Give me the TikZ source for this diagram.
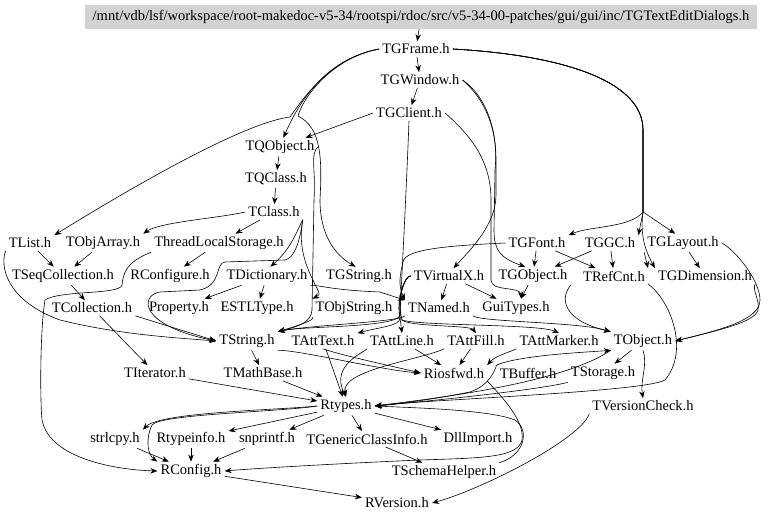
\documentclass[tikz,border=0pt]{standalone}
\usepackage{fontspec}
\setmainfont{Liberation Serif}
\usetikzlibrary{arrows.meta}
\definecolor{rootgray}{RGB}{211,211,211}
\begin{document}
\begin{tikzpicture}[x=1pt,y=-1pt,
  every node/.style={font=\fontsize{14.5}{16}\selectfont,inner xsep=3pt,inner ysep=2.5pt},
  rootbox/.style={fill=rootgray,minimum width=672pt,minimum height=24pt,inner sep=0pt},
  dep/.style={->,>={Stealth[length=7pt,width=5.5pt]},line width=0.6pt}]
\useasboundingbox (0,0) rectangle (768,521);
% header and gui part
\node[rootbox] (root) at (421,17) {/mnt/vdb/lsf/workspace/root-makedoc-v5-34/rootspi/rdoc/src/v5-34-00-patches/gui/gui/inc/TGTextEditDialogs.h};
\node (frame) at (416,49) {TGFrame.h};
\node (window) at (420,80) {TGWindow.h};
\node (client) at (409,113) {TGClient.h};
\node (qobject) at (280,147) {TQObject.h};
\node (qclass) at (276,179) {TQClass.h};
\node (class) at (274,212) {TClass.h};
\node (list) at (30,243) {TList.h};
\node (objarray) at (103,243) {TObjArray.h};
\node (tls) at (219,243) {ThreadLocalStorage.h};
\node (font) at (537,243) {TGFont.h};
\node (gc) at (610,243) {TGGC.h};
\node (layout) at (683,243) {TGLayout.h};
\node (seqcoll) at (63,276) {TSeqCollection.h};
\node (rconfigure) at (170,276) {RConfigure.h};
\node (dictionary) at (267,276) {TDictionary.h};
\node (gstring) at (359,276) {TGString.h};
\node (virtualx) at (449,276) {TVirtualX.h};
\node (gobject) at (533,276) {TGObject.h};
\node (refcnt) at (614,276) {TRefCnt.h};
\node (dimension) at (705,276) {TGDimension.h};
\node (collection) at (92,308) {TCollection.h};
\node (property) at (179,308) {Property.h};
\node (estltype) at (257,308) {ESTLType.h};
\node (objstring) at (354,308) {TObjString.h};
\node (named) at (439,308) {TNamed.h};
\node (guitypes) at (516,308) {GuiTypes.h};
% core part
\node (string) at (247,341) {TString.h};
\node (atttext) at (323,341) {TAttText.h};
\node (attline) at (402,341) {TAttLine.h};
\node (attfill) at (476,341) {TAttFill.h};
\node (attmarker) at (559,341) {TAttMarker.h};
\node (object) at (643,341) {TObject.h};
\node (iterator) at (155,373) {TIterator.h};
\node (mathbase) at (263,373) {TMathBase.h};
\node (riosfwd) at (454,373) {Riosfwd.h};
\node (buffer) at (528,373) {TBuffer.h};
\node (storage) at (603,373) {TStorage.h};
\node (rtypes) at (346,406) {Rtypes.h};
\node (versioncheck) at (643,406) {TVersionCheck.h};
\node (strlcpy) at (115,439) {strlcpy.h};
\node (rtypeinfo) at (191,439) {Rtypeinfo.h};
\node (snprintf) at (267,439) {snprintf.h};
\node (genclassinfo) at (367,439) {TGenericClassInfo.h};
\node (dllimport) at (478,439) {DllImport.h};
\node (rconfig) at (191,471) {RConfig.h};
\node (schemahelper) at (444,472) {TSchemaHelper.h};
\node (rversion) at (397,503) {RVersion.h};
% edges from the top
\draw[dep] (root) -- (frame);
\draw[dep] (frame) -- (window);
\draw[dep] (window) -- (client);
\draw[dep] (frame.west) .. controls (330,58) and (302,95) .. (qobject.70);
\draw[dep] (frame.west) .. controls (330,58) and (302,100) .. (290,117) .. controls (250,122) and (160,170) .. (list.north east);
\draw[dep] (frame.west) .. controls (330,58) and (302,100) .. (298,116) .. controls (322,128) and (322,160) .. (320,200) .. controls (320,235) and (335,255) .. (gstring.110);
\draw[dep] (frame.east) .. controls (560,55) and (643,80) .. (643,130) -- (643,212) .. controls (630,228) and (590,226) .. (font.north east);
\draw[dep] (frame.east) .. controls (560,55) and (643,80) .. (643,130) -- (643,212) -- (gc.north east);
\draw[dep] (frame.east) .. controls (560,55) and (643,80) .. (643,130) -- (643,212) -- (layout.130);
\draw[dep] (frame.east) .. controls (560,55) and (643,80) .. (643,130) -- (643,212) .. controls (640,235) and (645,250) .. (dimension.north west);
\draw[dep] (client.west) -- (qobject.20);
\draw[dep] (window.east) .. controls (480,95) and (496,120) .. (496,160) -- (496,195) .. controls (496,225) and (470,250) .. (virtualx.60);
\draw[dep] (window.east) .. controls (485,95) and (499,130) .. (495,170) -- (494,230) .. controls (494,250) and (500,258) .. (gobject.130);
\draw[dep] (client.east) .. controls (470,135) and (491,160) .. (491,200) -- (491,280) .. controls (491,292) and (520,286) .. (guitypes.60);
\draw[dep] (client.south) .. controls (406,200) and (401,290) .. (400,315) .. controls (398,328) and (300,326) .. (string.north east);
\draw[dep] (qobject) -- (qclass);
\draw[dep] (qclass) -- (class);
\draw[dep] (qobject.east) .. controls (310,155) and (316,170) .. (314,200) -- (312,310) .. controls (311,322) and (300,326) .. (string.north east);
% collections and dictionary
\draw[dep] (class.west) .. controls (220,218) and (160,222) .. (objarray.north east);
\draw[dep] (class) -- (tls);
\draw[dep] (class.south east) .. controls (298,228) and (292,248) .. (dictionary.70);
\draw[dep] (class.south east) .. controls (300,235) and (300,255) .. (313,280) .. controls (318,292) and (322,294) .. (objstring.north west);
\draw[dep] (class.south east) .. controls (300,240) and (295,258) .. (285,260) -- (225,262) .. controls (215,263) and (222,285) .. (200,290) -- (160,292) .. controls (140,295) and (138,325) .. (string.west);
\draw[dep] (list) -- (seqcoll);
\draw[dep] (objarray) -- (seqcoll);
\draw[dep] (list.south west) .. controls (0,265) and (5,300) .. (60,320) .. controls (120,335) and (180,338) .. (string.west);
\draw[dep] (tls) -- (rconfigure);
\draw[dep] (tls.south west) .. controls (125,262) and (123,275) .. (122,285) .. controls (120,295) and (60,290) .. (45,300) .. controls (40,330) and (40,400) .. (42,420) .. controls (50,460) and (120,470) .. (rconfig.west);
\draw[dep] (seqcoll) -- (collection);
\draw[dep] (collection) -- (iterator);
\draw[dep] (collection.south east) -- (string.west);
\draw[dep] (dictionary) -- (property);
\draw[dep] (dictionary) -- (estltype);
\draw[dep] (dictionary.south east) .. controls (320,285) and (330,290) .. (380,292) -- (named.north west);
\draw[dep] (objstring.south west) .. controls (315,320) and (300,325) .. (string.north east);
% gui objects
\draw[dep] (font) -- (gobject);
\draw[dep] (font) -- (refcnt);
\draw[dep] (gc) -- (gobject);
\draw[dep] (gc) -- (refcnt);
\draw[dep] (font.west) .. controls (440,246) and (405,250) .. (403,262) .. controls (400,275) and (398,285) .. (named.north west);
\draw[dep] (layout.south west) -- (refcnt.north east);
\draw[dep] (layout) -- (dimension);
\draw[dep] (layout.east) .. controls (735,250) and (760,280) .. (760,300) .. controls (760,320) and (720,330) .. (object.east);
\draw[dep] (dimension.south east) .. controls (752,290) and (760,300) .. (758,310) .. controls (755,322) and (720,330) .. (object.east);
\draw[dep] (virtualx) -- (named);
\draw[dep] (virtualx) -- (guitypes);
\draw[dep] (virtualx.west) .. controls (405,275) and (396,300) .. (400,318) .. controls (400,326) and (380,327) .. (atttext.north east);
\draw[dep] (virtualx.west) .. controls (405,275) and (396,300) .. (400,318) -- (attline.north);
\draw[dep] (virtualx.west) .. controls (405,275) and (396,300) .. (402,320) .. controls (410,327) and (470,325) .. (attfill.north);
\draw[dep] (virtualx.west) .. controls (405,275) and (396,300) .. (402,320) .. controls (420,326) and (540,324) .. (attmarker.north);
\draw[dep] (gobject) -- (guitypes);
\draw[dep] (gobject.south east) .. controls (560,298) and (562,320) .. (object.north west);
\draw[dep] (named.south west) .. controls (400,322) and (310,325) .. (string.north east);
\draw[dep] (named.south east) .. controls (480,322) and (580,322) .. (object.north west);
% core edges
\draw[dep] (string) -- (mathbase);
\draw[dep] (string.south east) .. controls (300,350) and (380,370) .. (riosfwd.west);
\draw[dep] (atttext.south) .. controls (340,355) and (400,368) .. (riosfwd.west);
\draw[dep] (atttext) -- (rtypes);
\draw[dep] (attline) -- (riosfwd);
\draw[dep] (attline.south west) .. controls (365,352) and (330,365) .. (rtypes.north);
\draw[dep] (attfill) -- (riosfwd);
\draw[dep] (attfill.south west) .. controls (420,360) and (340,370) .. (rtypes.north);
\draw[dep] (attmarker.south west) .. controls (510,352) and (495,356) .. (riosfwd.north east);
\draw[dep] (object) -- (storage);
\draw[dep] (object.south) .. controls (648,365) and (640,380) .. (versioncheck.north);
\draw[dep] (object.south west) .. controls (560,385) and (420,400) .. (rtypes.east);
\draw[dep] (buffer.north west) .. controls (520,355) and (590,352) .. (object.south west);
\draw[dep] (buffer.north west) .. controls (495,370) and (490,385) .. (470,392) .. controls (440,398) and (400,404) .. (rtypes.east);
\draw[dep] (storage.south west) .. controls (540,390) and (420,402) .. (rtypes.east);
\draw[dep] (refcnt.south east) .. controls (670,300) and (690,350) .. (665,380) .. controls (645,392) and (420,400) .. (rtypes.east);
\draw[dep] (riosfwd.south east) .. controls (500,395) and (525,420) .. (522,440) .. controls (518,458) and (480,458) .. (420,460) .. controls (350,463) and (260,468) .. (rconfig.east);
\draw[dep] (schemahelper.north east) .. controls (525,455) and (530,430) .. (515,420) .. controls (490,410) and (420,408) .. (rtypes.east);
\draw[dep] (iterator) -- (rtypes);
\draw[dep] (mathbase) -- (rtypes);
\draw[dep] (rtypes.west) .. controls (280,410) and (160,412) .. (strlcpy.north east);
\draw[dep] (rtypes.west) .. controls (280,412) and (160,414) .. (152,425) .. controls (145,440) and (148,455) .. (rconfig.north west);
\draw[dep] (rtypes) -- (rtypeinfo);
\draw[dep] (rtypes) -- (snprintf);
\draw[dep] (rtypes) -- (genclassinfo);
\draw[dep] (rtypes) -- (dllimport);
\draw[dep] (strlcpy) -- (rconfig);
\draw[dep] (rtypeinfo) -- (rconfig);
\draw[dep] (snprintf) -- (rconfig);
\draw[dep] (genclassinfo) -- (schemahelper);
\draw[dep] (rconfig) -- (rversion);
\draw[dep] (versioncheck.south west) .. controls (580,440) and (480,490) .. (rversion.east);
\end{tikzpicture}
\end{document}
